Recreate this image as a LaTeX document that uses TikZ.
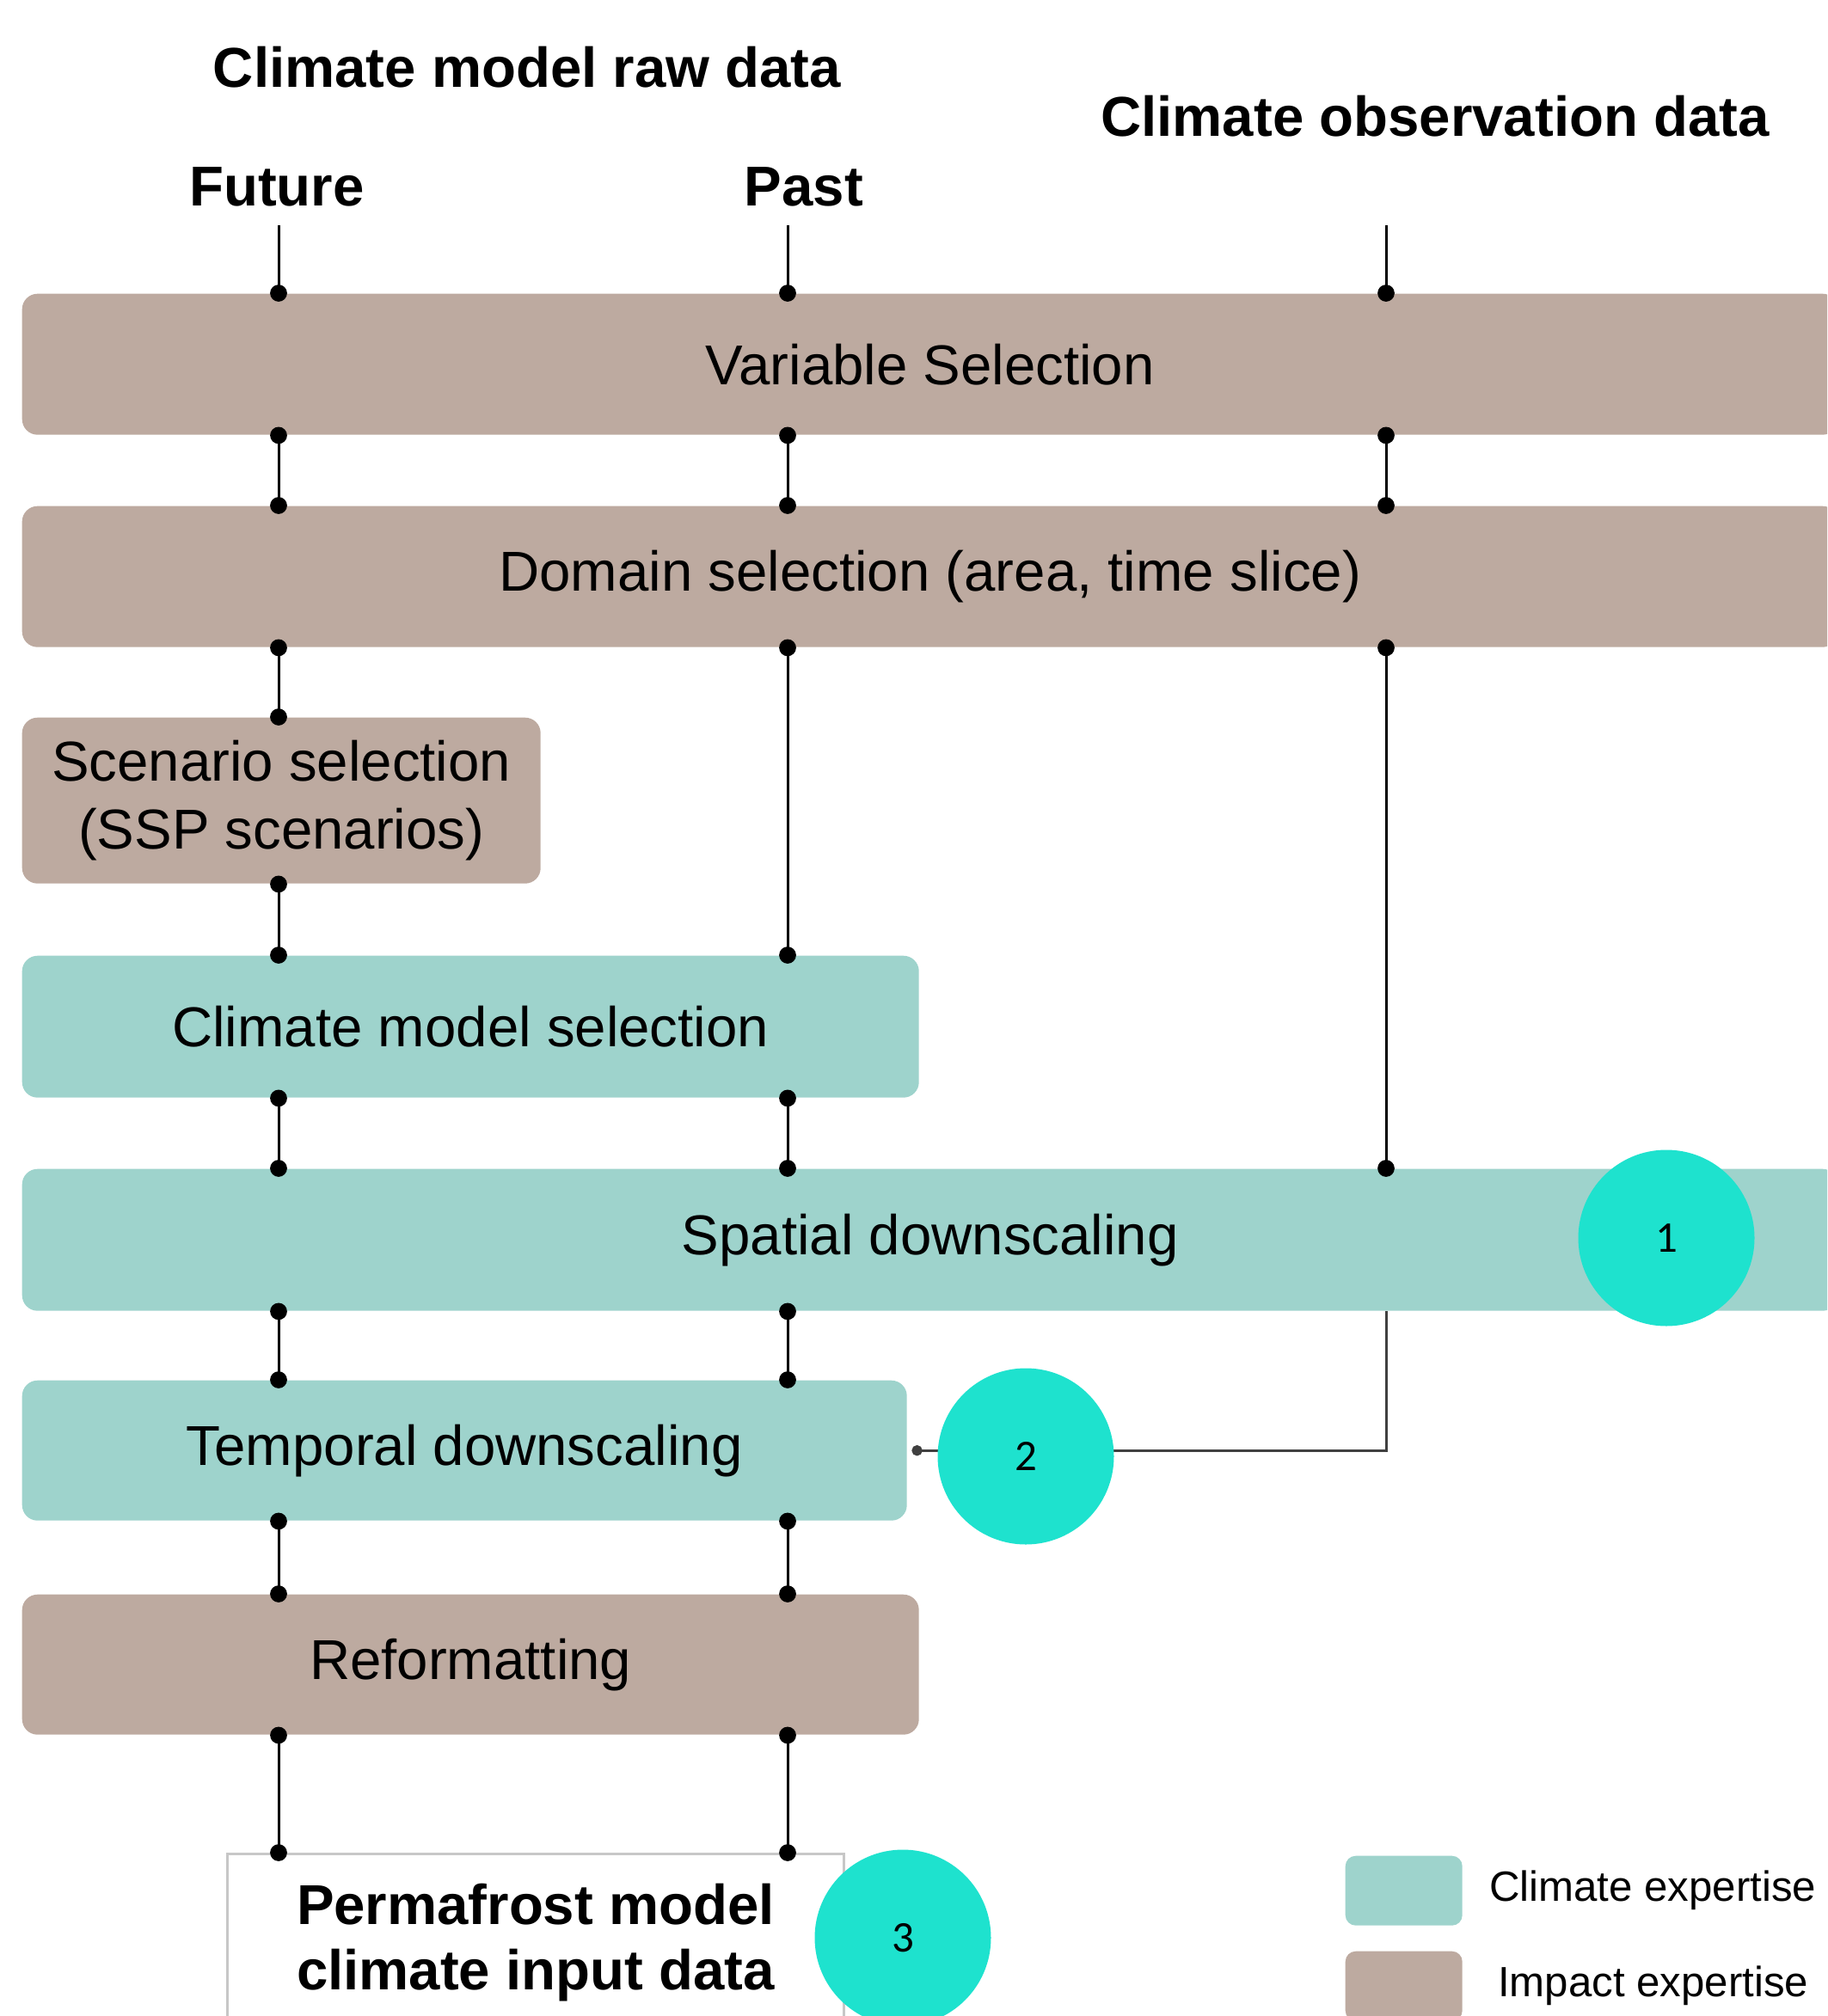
\documentclass[tikz,border=0pt]{standalone}
\usepackage{fontspec}
\setmainfont{Liberation Sans}
\newfontfamily\numfont{Carlito}
\usetikzlibrary{positioning,arrows.meta}
\definecolor{impactbrown}{RGB}{189,170,160}
\definecolor{climteal}{RGB}{158,211,204}
\definecolor{markteal}{RGB}{30,226,206}

\begin{document}
\begin{tikzpicture}[
    stage/.style={anchor=north west, rounded corners=0.18cm, inner sep=0pt, align=center,
        font=\fontsize{18.6}{22.5}\selectfont},
    impact/.style={stage, fill=impactbrown},
    climate/.style={stage, fill=climteal},
    head/.style={font=\bfseries\fontsize{18.6}{21.5}\selectfont},
    marker/.style={circle, fill=markteal, minimum size=2.05cm, inner sep=0pt,
        font=\numfont\fontsize{14.5}{17}\selectfont},
    link/.style={line width=0.85pt, {Circle[length=5.6pt]}-{Circle[length=5.6pt]},
        shorten <=-2.8pt, shorten >=-2.8pt},
    intop/.style={line width=0.85pt, -{Circle[length=5.6pt]}, shorten >=-2.8pt},
    feed/.style={line width=0.85pt, draw=black!75, -{Circle[length=3.5pt]}, shorten >=0.05cm},
    legbox/.style={anchor=north west, rounded corners=0.12cm, minimum width=1.36cm, minimum height=0.81cm},
    legtext/.style={inner sep=0pt, font=\fontsize{14}{17}\selectfont}
]
    \useasboundingbox (0,0) rectangle (21.25,-23.45);
    \clip (0,0) rectangle (21.25,-23.45);

    \node[head] (rawdata) at (6.13,-0.78) {Climate model raw data};
    \node[head] (obsdata) at (16.69,-1.35) {Climate observation data};
    \node[head] (future) at (3.22,-2.17) {Future};
    \node[head] (past) at (9.35,-2.17) {Past};

    \coordinate (fut) at (3.24,-2.62);
    \coordinate (pst) at (9.16,-2.62);
    \coordinate (obs) at (16.12,-2.62);

    \node[impact, minimum width=21.12cm, minimum height=1.64cm] (var) at (0.25,-3.41) {Variable Selection};
    \node[impact, minimum width=21.12cm, minimum height=1.64cm] (dom) at (0.25,-5.88) {Domain selection (area, time slice)};
    \node[impact, minimum width=6.03cm, minimum height=1.93cm] (scen) at (0.25,-8.34) {Scenario selection\\(SSP scenarios)};
    \node[climate, minimum width=10.43cm, minimum height=1.65cm] (cms) at (0.25,-11.11) {Climate model selection};
    \node[climate, minimum width=21.12cm, minimum height=1.65cm] (spat) at (0.25,-13.59) {Spatial downscaling};
    \node[climate, minimum width=10.29cm, minimum height=1.63cm] (temp) at (0.25,-16.05) {Temporal downscaling};
    \node[impact, minimum width=10.43cm, minimum height=1.63cm] (refo) at (0.25,-18.54) {Reformatting};
    \node[anchor=north west, draw=black!22, line width=0.8pt, fill=white, minimum width=7.17cm, minimum height=2.06cm,
        inner sep=0pt, align=center, font=\bfseries\fontsize{18.6}{21.5}\selectfont] (perma) at (2.63,-21.55) {Permafrost model\\climate input data};

    \draw[intop] (fut) -- (fut |- var.north);
    \draw[intop] (pst) -- (pst |- var.north);
    \draw[intop] (obs) -- (obs |- var.north);

    \draw[link] (fut |- var.south) -- (fut |- dom.north);
    \draw[link] (pst |- var.south) -- (pst |- dom.north);
    \draw[link] (obs |- var.south) -- (obs |- dom.north);

    \draw[link] (fut |- dom.south) -- (fut |- scen.north);
    \draw[link] (pst |- dom.south) -- (pst |- cms.north);
    \draw[link] (obs |- dom.south) -- (obs |- spat.north);

    \draw[link] (fut |- scen.south) -- (fut |- cms.north);

    \draw[link] (fut |- cms.south) -- (fut |- spat.north);
    \draw[link] (pst |- cms.south) -- (pst |- spat.north);

    \draw[link] (fut |- spat.south) -- (fut |- temp.north);
    \draw[link] (pst |- spat.south) -- (pst |- temp.north);

    \draw[link] (fut |- temp.south) -- (fut |- refo.north);
    \draw[link] (pst |- temp.south) -- (pst |- refo.north);

    \draw[link] (fut |- refo.south) -- (fut |- perma.north);
    \draw[link] (pst |- refo.south) -- (pst |- perma.north);

    \draw[feed] (obs |- spat.south) |- (temp.east);

    \node[marker] (m1) at (19.38,-14.40) {1};
    \node[marker] (m2) at (11.93,-16.94) {2};
    \node[marker] (m3) at (10.50,-22.54) {3};

    \node[legbox, fill=climteal] (legclim) at (15.64,-21.58) {};
    \node[legtext, right=0.3cm of legclim] {Climate expertise};
    \node[legbox, fill=impactbrown] (legimp) at (15.64,-22.69) {};
    \node[legtext, right=0.4cm of legimp] {Impact expertise};
\end{tikzpicture}
\end{document}
